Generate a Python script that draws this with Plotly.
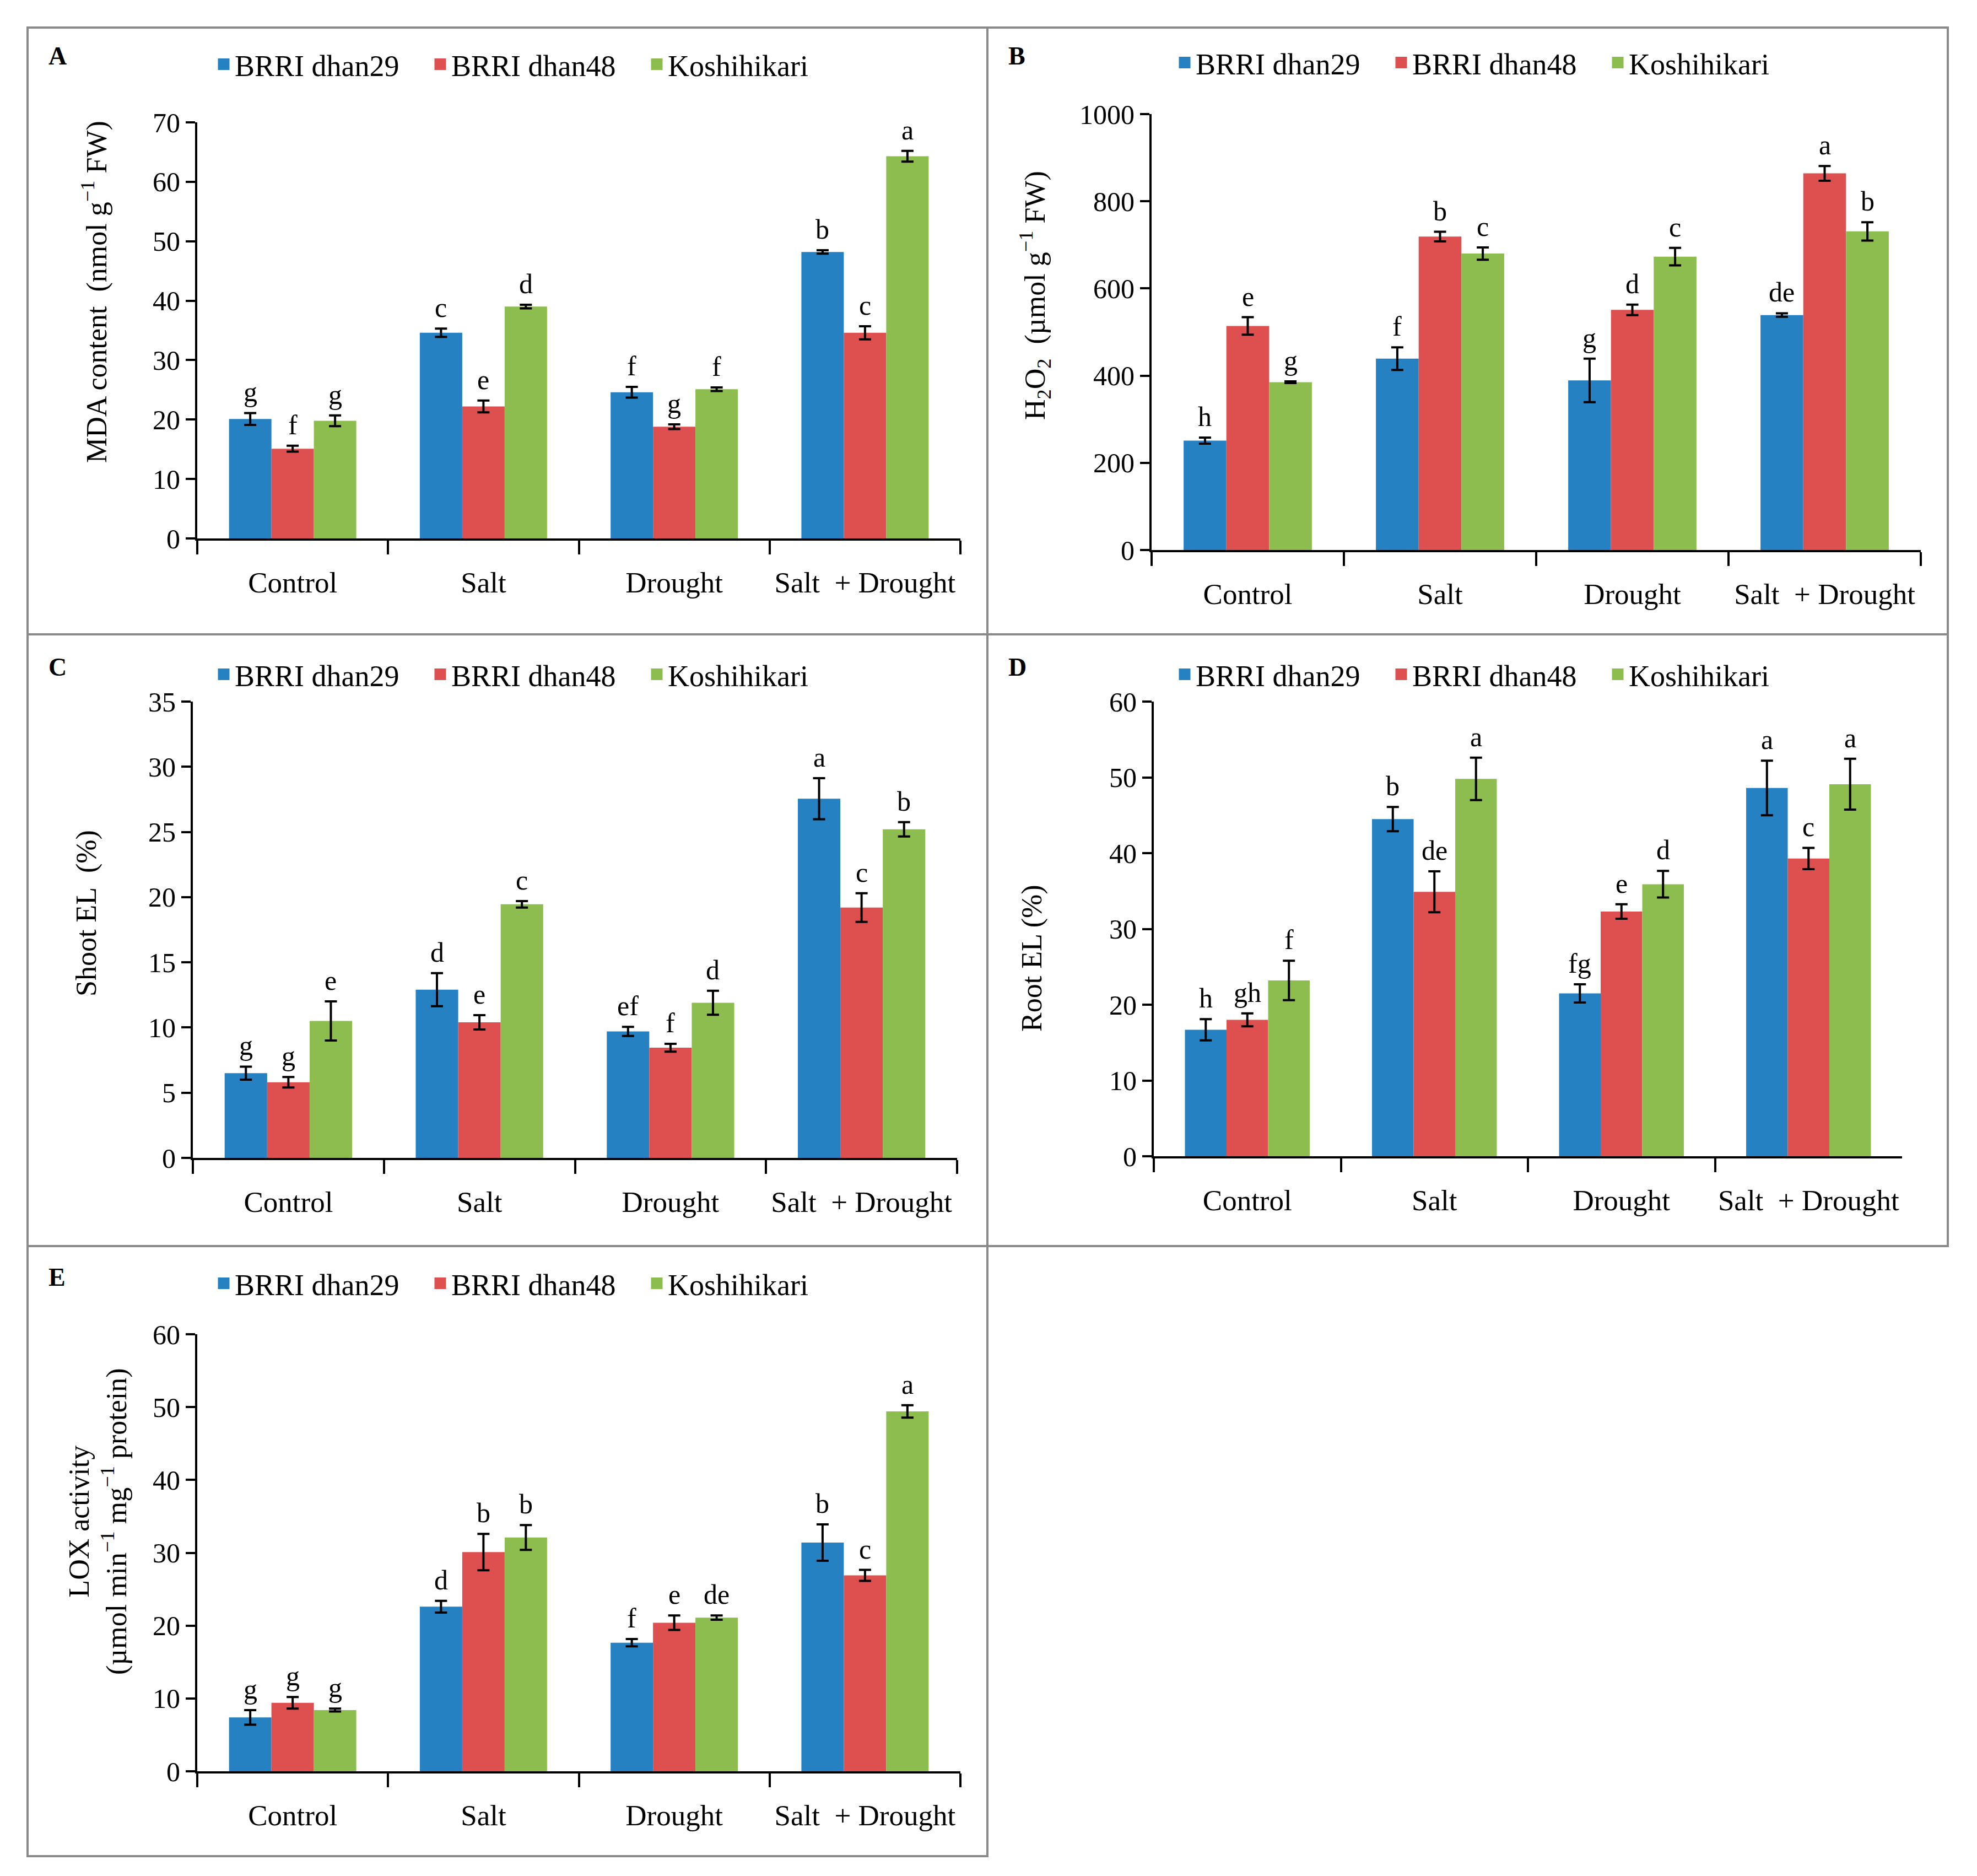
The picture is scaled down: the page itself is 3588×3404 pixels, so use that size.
import plotly.graph_objects as go

W, H = 3588, 3404
FONT = "Liberation Serif"

categories = ["Control", "Salt", "Drought", "Salt\u00a0 + Drought"]
varieties = ["BRRI dhan29", "BRRI dhan48", "Koshihikari"]
colors = ["#2581C1", "#DE5050", "#8DBC4F"]

# Panel A: MDA content
mda_dhan29 = [20.1, 34.6, 24.6, 48.2]
mda_dhan48 = [15.1, 22.2, 18.8, 34.6]
mda_koshi = [19.8, 39.0, 25.1, 64.3]
mda_err_dhan29 = [1.0, 0.7, 0.9, 0.3]
mda_err_dhan48 = [0.5, 1.0, 0.4, 1.1]
mda_err_koshi = [0.9, 0.3, 0.3, 0.9]
mda_letters_dhan29 = ["g", "c", "f", "b"]
mda_letters_dhan48 = ["f", "e", "g", "c"]
mda_letters_koshi = ["g", "d", "f", "a"]

# Panel B: H2O2
h2o2_dhan29 = [251, 439, 389, 539]
h2o2_dhan48 = [514, 719, 551, 864]
h2o2_koshi = [385, 680, 673, 731]
h2o2_err_dhan29 = [7, 26, 50, 4]
h2o2_err_dhan48 = [20, 11, 12, 17]
h2o2_err_koshi = [2, 14, 20, 21]
h2o2_letters_dhan29 = ["h", "f", "g", "de"]
h2o2_letters_dhan48 = ["e", "b", "d", "a"]
h2o2_letters_koshi = ["g", "c", "c", "b"]

# Panel C: Shoot EL
shoot_dhan29 = [6.5, 12.9, 9.7, 27.55]
shoot_dhan48 = [5.8, 10.4, 8.45, 19.2]
shoot_koshi = [10.5, 19.45, 11.9, 25.2]
shoot_err_dhan29 = [0.5, 1.27, 0.35, 1.57]
shoot_err_dhan48 = [0.4, 0.55, 0.3, 1.1]
shoot_err_koshi = [1.5, 0.25, 0.92, 0.55]
shoot_letters_dhan29 = ["g", "d", "ef", "a"]
shoot_letters_dhan48 = ["g", "e", "f", "c"]
shoot_letters_koshi = ["e", "c", "d", "b"]

# Panel D: Root EL
root_dhan29 = [16.7, 44.5, 21.5, 48.6]
root_dhan48 = [18.0, 34.9, 32.3, 39.3]
root_koshi = [23.2, 49.8, 35.9, 49.1]
root_err_dhan29 = [1.4, 1.6, 1.2, 3.6]
root_err_dhan48 = [0.85, 2.7, 0.95, 1.4]
root_err_koshi = [2.6, 2.8, 1.75, 3.35]
root_letters_dhan29 = ["h", "b", "fg", "a"]
root_letters_dhan48 = ["gh", "de", "e", "c"]
root_letters_koshi = ["f", "a", "d", "a"]

# Panel E: LOX activity
lox_dhan29 = [7.4, 22.6, 17.65, 31.4]
lox_dhan48 = [9.4, 30.1, 20.4, 26.9]
lox_koshi = [8.4, 32.1, 21.1, 49.4]
lox_err_dhan29 = [1.0, 0.8, 0.5, 2.5]
lox_err_dhan48 = [0.8, 2.5, 1.0, 0.75]
lox_err_koshi = [0.2, 1.7, 0.3, 0.85]
lox_letters_dhan29 = ["g", "d", "f", "b"]
lox_letters_dhan48 = ["g", "b", "e", "c"]
lox_letters_koshi = ["g", "b", "de", "a"]

BARGAP = 0.333

panels = [
    dict(letter="A", vals=[mda_dhan29, mda_dhan48, mda_koshi],
         errs=[mda_err_dhan29, mda_err_dhan48, mda_err_koshi],
         lets=[mda_letters_dhan29, mda_letters_dhan48, mda_letters_koshi],
         ymax=70, dtick=10, px=(358, 1743), py=(222, 977),
         ytitle="MDA content\u00a0 (nmol g<sup>\u22121</sup> FW)", ytx=172, yty=530,
         box=(50, 50, 1792, 1151), lab=(86, 74), leg=(390, 117)),
    dict(letter="B", vals=[h2o2_dhan29, h2o2_dhan48, h2o2_koshi],
         errs=[h2o2_err_dhan29, h2o2_err_dhan48, h2o2_err_koshi],
         lets=[h2o2_letters_dhan29, h2o2_letters_dhan48, h2o2_letters_koshi],
         ymax=1000, dtick=200, px=(2090, 3486), py=(207, 998),
         ytitle="H<sub>2</sub>O<sub>2</sub>\u00a0 (\u00b5mol g<sup>\u22121</sup> FW)", ytx=1879, yty=536,
         box=(1792, 50, 3535, 1151), lab=(1828, 74), leg=(2134, 114)),
    dict(letter="C", vals=[shoot_dhan29, shoot_dhan48, shoot_koshi],
         errs=[shoot_err_dhan29, shoot_err_dhan48, shoot_err_koshi],
         lets=[shoot_letters_dhan29, shoot_letters_dhan48, shoot_letters_koshi],
         ymax=35, dtick=5, px=(350, 1737), py=(1273, 2101),
         ytitle="Shoot EL\u00a0 (%)", ytx=157, yty=1657,
         box=(50, 1151, 1792, 2261), lab=(86, 1183), leg=(390, 1224)),
    dict(letter="D", vals=[root_dhan29, root_dhan48, root_koshi],
         errs=[root_err_dhan29, root_err_dhan48, root_err_koshi],
         lets=[root_letters_dhan29, root_letters_dhan48, root_letters_koshi],
         ymax=60, dtick=10, px=(2094, 3452), py=(1273, 2098),
         ytitle="Root EL (%)", ytx=1873, yty=1739,
         box=(1792, 1151, 3535, 2261), lab=(1828, 1183), leg=(2134, 1224)),
    dict(letter="E", vals=[lox_dhan29, lox_dhan48, lox_koshi],
         errs=[lox_err_dhan29, lox_err_dhan48, lox_err_koshi],
         lets=[lox_letters_dhan29, lox_letters_dhan48, lox_letters_koshi],
         ymax=60, dtick=10, px=(358, 1743), py=(2421, 3214),
         ytitle="LOX activity<br>(\u00b5mol min<sup>\u22121</sup> mg<sup>\u22121</sup> protein)", ytx=178, yty=2761,
         box=(50, 2261, 1792, 3368), lab=(86, 2290), leg=(390, 2329)),
]

fig = go.Figure()
annotations = []
shapes = []
layout_upd = {}

for k, p in enumerate(panels):
    n = "" if k == 0 else str(k + 1)
    xa, ya = "x" + n, "y" + n
    legname = "legend" + n
    for i in range(3):
        fig.add_trace(go.Bar(
            x=categories, y=p["vals"][i], name=varieties[i],
            marker=dict(color=colors[i], line=dict(width=0)),
            error_y=dict(type="data", array=p["errs"][i], color="black",
                         thickness=4, width=11),
            xaxis=xa, yaxis=ya, showlegend=False,
        ))
    # legend entries (square keys)
    for i in range(3):
        fig.add_trace(go.Scatter(
            x=[None], y=[None], mode="markers", name=varieties[i],
            marker=dict(symbol="square", size=21, color=colors[i],
                        line=dict(color=colors[i], width=5)),
            xaxis=xa, yaxis=ya, legend=legname, showlegend=True, hoverinfo="skip",
        ))
    x0, x1 = p["px"]
    y0, y1 = p["py"]
    layout_upd["xaxis" + n] = dict(
        domain=[x0 / W, x1 / W], anchor=ya, type="category",
        categoryorder="array", categoryarray=categories,
        showline=True, linecolor="black", linewidth=4,
        ticks="outside", tickson="boundaries", ticklen=25, tickwidth=4, tickcolor="black",
        tickfont=dict(family=FONT, size=53, color="black"), ticklabelstandoff=30,
        showgrid=False, zeroline=False, fixedrange=True, automargin=False,
    )
    layout_upd["yaxis" + n] = dict(
        domain=[1 - y1 / H, 1 - y0 / H], anchor=xa, range=[0, p["ymax"]],
        dtick=p["dtick"], tick0=0,
        showline=True, linecolor="black", linewidth=4,
        ticks="outside", ticklen=17, tickwidth=4, tickcolor="black",
        tickfont=dict(family=FONT, size=50, color="black"),
        showgrid=False, zeroline=False, fixedrange=True, automargin=False,
    )
    layout_upd[legname] = dict(
        orientation="h", x=(p["leg"][0] - 4) / W, y=1 - p["leg"][1] / H,
        xanchor="left", yanchor="middle", bgcolor="rgba(0,0,0,0)",
        font=dict(family=FONT, size=54, color="black"),
        entrywidth=348, entrywidthmode="pixels", itemwidth=30,
        traceorder="normal", itemsizing="trace",
    )
    # significance letters
    catw = (x1 - x0) / 4
    barw = catw * (1 - BARGAP) / 3
    for i in range(3):
        for j, c in enumerate(categories):
            annotations.append(dict(
                x=c, y=p["vals"][i][j] + p["errs"][i][j], xref=xa, yref=ya,
                text=p["lets"][i][j], showarrow=False, xanchor="center", yanchor="bottom",
                xshift=(i - 1) * barw, yshift=8,
                font=dict(family=FONT, size=50, color="black"),
            ))
    # y-axis title
    annotations.append(dict(
        x=p["ytx"] / W, y=1 - p["yty"] / H, xref="paper", yref="paper",
        text=p["ytitle"], textangle=-90, showarrow=False,
        xanchor="center", yanchor="middle",
        font=dict(family=FONT, size=52, color="black"),
    ))
    # panel letter
    annotations.append(dict(
        x=p["lab"][0] / W, y=1 - p["lab"][1] / H, xref="paper", yref="paper",
        text="<b>" + p["letter"] + "</b>", showarrow=False,
        xanchor="left", yanchor="top",
        font=dict(family=FONT, size=46, color="black"),
    ))
    bx0, by0, bx1, by1 = p["box"]
    shapes.append(dict(
        type="rect", xref="paper", yref="paper",
        x0=bx0 / W, x1=bx1 / W, y0=1 - by1 / H, y1=1 - by0 / H,
        line=dict(color="#8a8a8a", width=4), fillcolor="rgba(0,0,0,0)", layer="below",
    ))

fig.update_layout(**layout_upd)
fig.update_layout(
    width=W, height=H, margin=dict(l=0, r=0, t=0, b=0, autoexpand=False),
    paper_bgcolor="white", plot_bgcolor="white",
    barmode="group", bargap=BARGAP, bargroupgap=0,
    annotations=annotations, shapes=shapes,
    font=dict(family=FONT, color="black"),
)

fig.write_html("out.html", config={"displayModeBar": False},
               post_script="document.body.style.margin='0';")
